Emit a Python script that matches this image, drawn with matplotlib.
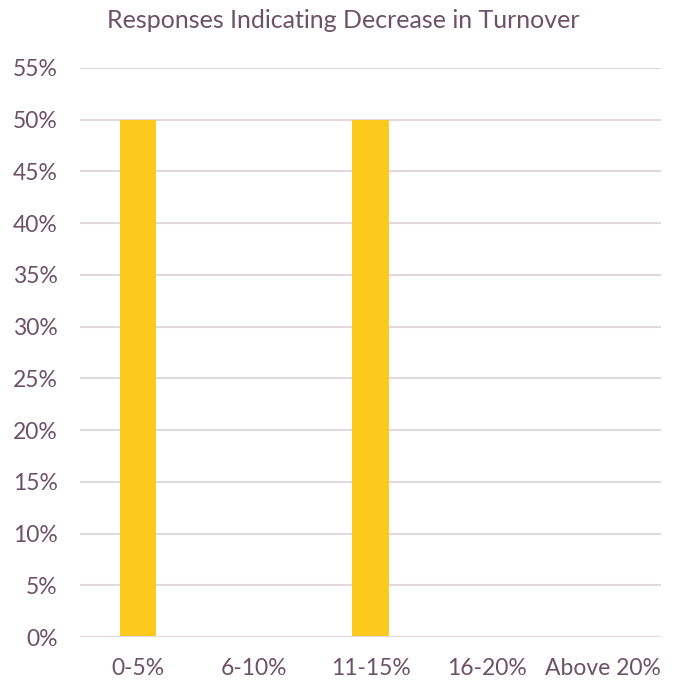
import matplotlib
matplotlib.use("Agg")
import matplotlib.pyplot as plt
from matplotlib.ticker import PercentFormatter

categories = ["0-5%", "6-10%", "11-15%", "16-20%", "Above 20%"]
responses = [50, 0, 50, 0, 0]
y_ticks = [0, 5, 10, 15, 20, 25, 30, 35, 40, 45, 50, 55]

text_color = "#6e5169"
bar_color = "#fbca1c"
grid_color = "#e2d9e0"

plt.rcParams["font.family"] = ["Lato", "DejaVu Sans"]

fig = plt.figure(figsize=(6.74, 6.82), dpi=100)
ax = fig.add_axes([80 / 674, 1 - 637 / 682, 581 / 674, (637 - 68) / 682])

x = range(len(categories))
ax.bar(x, responses, width=0.31, color=bar_color, zorder=3)

ax.set_xlim(-0.5, len(categories) - 0.5)
ax.set_ylim(0, 55)
ax.set_yticks(y_ticks)
ax.yaxis.set_major_formatter(PercentFormatter(decimals=0))
ax.set_xticks(list(x))
ax.set_xticklabels(categories)

ax.grid(axis="y", color=grid_color, linewidth=1.5, zorder=0)
for side in ["top", "right", "left", "bottom"]:
    ax.spines[side].set_visible(False)
ax.axhline(0, color=grid_color, linewidth=1.5, zorder=4)

ax.tick_params(axis="both", length=0, labelsize=16.5, colors=text_color)
ax.tick_params(axis="y", pad=16)
ax.tick_params(axis="x", pad=15)

fig.text(343.5 / 674, 1 - 20 / 682, "Responses Indicating Decrease in Turnover",
         ha="center", va="center", fontsize=18, color=text_color)

fig.savefig("out.png", dpi=100, facecolor="white")
